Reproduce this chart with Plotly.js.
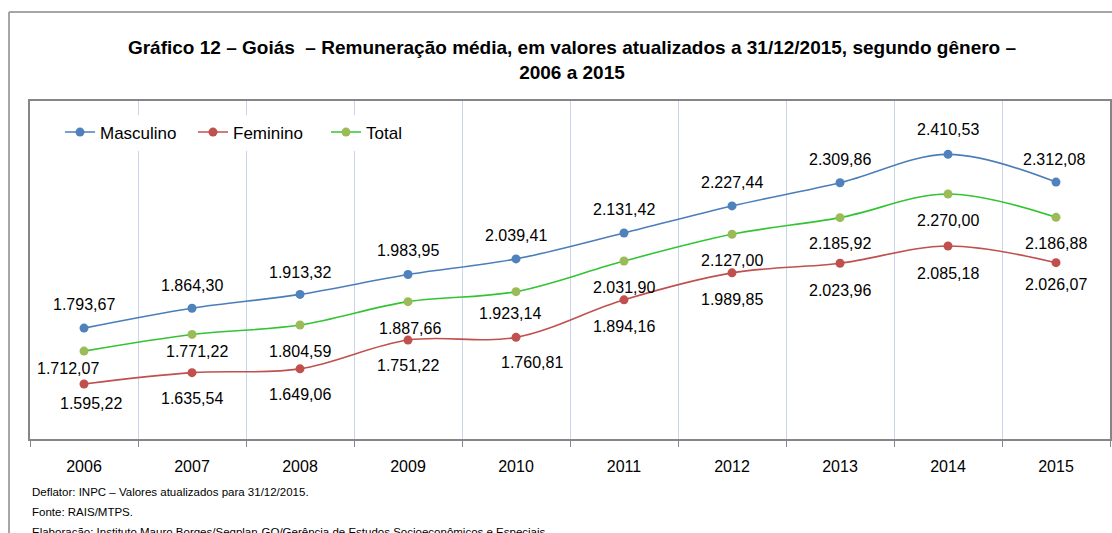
<!DOCTYPE html>
<html>
<head>
<meta charset="utf-8">
<script src="https://cdn.plot.ly/plotly-3.0.1.min.js"></script>
<style>
  html, body { margin: 0; padding: 0; background: #fff; }
  #chart { width: 1112px; height: 533px; }
</style>
</head>
<body>
<div id="chart"></div>
<script>
// ---- data ----
const years = ['2006','2007','2008','2009','2010','2011','2012','2013','2014','2015'];
const masculino = [1793.67, 1864.30, 1913.32, 1983.95, 2039.41, 2131.42, 2227.44, 2309.86, 2410.53, 2312.08];
const feminino  = [1595.22, 1635.54, 1649.06, 1751.22, 1760.81, 1894.16, 1989.85, 2023.96, 2085.18, 2026.07];
const total     = [1712.07, 1771.22, 1804.59, 1887.66, 1923.14, 2031.90, 2127.00, 2185.92, 2270.00, 2186.88];
const seriesNames = ['Masculino', 'Feminino', 'Total'];
const notes = [
  'Deflator: INPC – Valores atualizados para 31/12/2015.',
  'Fonte: RAIS/MTPS.',
  'Elaboração: Instituto Mauro Borges/Segplan-GO/Gerência de Estudos Socioeconômicos e Especiais.'
];
const titleText = 'Gráfico 12 – Goiás  – Remuneração média, em valores atualizados a 31/12/2015, segundo gênero –<br>2006 a 2015';

// ---- styles / label placement (pixels) ----
const lineColors   = ['#4a7ebb', '#c0504d', '#33c433'];
const markerColors = ['#4f81bd', '#c0504d', '#9bbb59'];
const labelShift = {
  Masculino: {dx: [0,0,0,0,0,0,0,0,0,-2], dy: [24,23,22,24,23,23,23,23,25,23]},
  Feminino:  {dx: [7,0,0,0,16,0,0,0,0,0], dy: [-19,-26,-26,-25,-25,-27,-27,-27,-27,-22]},
  Total:     {dx: [-16,5,0,2,-6,0,0,0,0,0], dy: [-17,-17,-26,-27,-22,-26,-26,-26,-27,-26]}
};

function fmtBR(v) {
  const parts = v.toFixed(2).split('.');
  const intPart = parts[0].replace(/\B(?=(\d{3})+(?!\d))/g, '.');
  return intPart + ',' + parts[1];
}

const FONT = '"Liberation Sans", Arial, sans-serif';

const allSeries = [masculino, feminino, total];
const traces = allSeries.map((vals, i) => ({
  type: 'scatter',
  mode: 'lines+markers',
  name: seriesNames[i],
  x: years,
  y: vals,
  line: {color: lineColors[i], width: 1.6, shape: 'spline', smoothing: 1},
  marker: {color: markerColors[i], size: 9},
  hoverinfo: 'x+y'
}));

const annotations = [];
allSeries.forEach((vals, i) => {
  const sh = labelShift[seriesNames[i]];
  vals.forEach((v, j) => {
    annotations.push({
      x: j, y: v, xref: 'x', yref: 'y',   // category index of years[j]
      text: fmtBR(v), showarrow: false,
      xshift: sh.dx[j], yshift: sh.dy[j],
      font: {family: FONT, size: 16, color: '#000'}
    });
  });
});

// notes below the chart
const plotTop = 101, plotBottom = 439, plotH = plotBottom - plotTop;
const notePx = [492, 512, 532];
notes.forEach((t, k) => {
  annotations.push({
    xref: 'paper', yref: 'paper',
    x: (32 - 30) / 1080, y: (plotBottom - notePx[k]) / plotH,
    xanchor: 'left', yanchor: 'middle',
    text: t, showarrow: false, xshift: -2,
    font: {family: FONT, size: 11.5, color: '#000'}
  });
});

const layout = {
  width: 1112, height: 533,
  margin: {l: 30, r: 2, t: plotTop, b: 533 - plotBottom, pad: 0},
  paper_bgcolor: '#fff', plot_bgcolor: '#fff',
  title: {
    text: titleText,
    font: {family: FONT, size: 19, color: '#000', weight: 'bold'},
    xref: 'container', yref: 'container',
    x: 572 / 1112, xanchor: 'center',
    y: 1 - 54 / 533, yanchor: 'top'
  },
  showlegend: true,
  legend: {
    orientation: 'h',
    x: (60 - 30) / 1080, y: 0.96, xanchor: 'left', yanchor: 'top',
    bgcolor: '#fff',
    font: {family: FONT, size: 17, color: '#000'},
    itemwidth: 30,
    entrywidth: 88,
    tracegroupgap: 0
  },
  xaxis: {
    type: 'category',
    range: [-0.5, 9.5],
    tickson: 'boundaries',
    showgrid: true, gridcolor: '#c6d4ec', gridwidth: 1,
    ticks: 'outside', ticklen: 6, tickcolor: '#868686', tickwidth: 1,
    showline: true, linecolor: '#868686', linewidth: 2, mirror: true,
    ticklabelstandoff: 12,
    tickangle: 0,
    tickfont: {family: FONT, size: 16, color: '#000'},
    fixedrange: true
  },
  yaxis: {
    range: [1400, 2600],
    showgrid: false, zeroline: false, showticklabels: false, ticks: '',
    showline: true, linecolor: '#868686', linewidth: 2, mirror: true,
    fixedrange: true
  },
  shapes: [
    {type: 'line', xref: 'paper', yref: 'paper',
     x0: (9 - 30) / 1080, x1: (9 - 30) / 1080,
     y0: (plotBottom - 12) / plotH, y1: (plotBottom - 560) / plotH,
     line: {color: '#a6a6a6', width: 2}},
    {type: 'line', xref: 'paper', yref: 'paper',
     x0: (9 - 30) / 1080, x1: (1130 - 30) / 1080,
     y0: (plotBottom - 12) / plotH, y1: (plotBottom - 12) / plotH,
     line: {color: '#a6a6a6', width: 2}}
  ],
  annotations: annotations
};

Plotly.newPlot('chart', traces, layout, {displayModeBar: false, staticPlot: true});
</script>
</body>
</html>
